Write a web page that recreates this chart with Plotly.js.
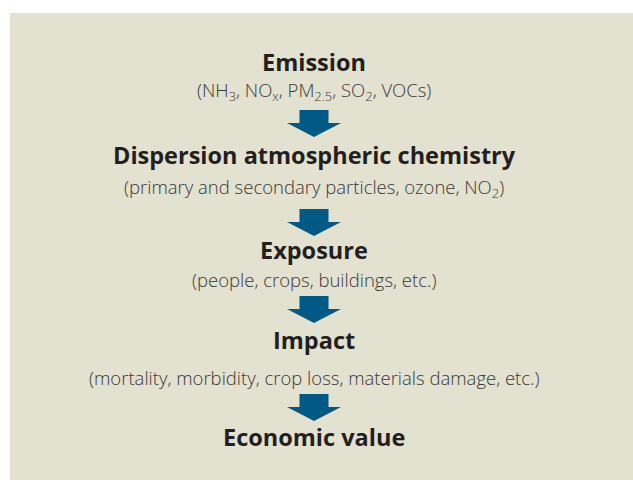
<!DOCTYPE html>
<html><head><meta charset="utf-8">
<script src="https://cdn.plot.ly/plotly-3.0.1.min.js"></script>
<style>html,body{margin:0;padding:0;background:#fff}</style>
</head><body><div id="chart" style="width:633px;height:480px"></div>
<script>
// ---- content ----
const stepTitles = ["Emission", "Dispersion atmospheric chemistry", "Exposure", "Impact", "Economic value"];
const stepDetails = [
  "(NH<sub>3</sub>, NO<sub>x</sub>, PM<sub>2.5</sub>, SO<sub>2</sub>, VOCs)",
  "(primary and secondary particles, ozone, NO<sub>2</sub>)",
  "(people, crops, buildings, etc.)",
  "(mortality, morbidity, crop loss, materials damage, etc.)",
  ""
];

// ---- layout geometry (pixel-like data units) ----
const geo = {
  cx: 314,
  titleY: [62, 155, 250, 340, 437],
  detailY: [91, 188, 279, 377],
  arrowTop: [110, 209, 296, 394],
  shaftHalf: 14.5, headHalf: 27, shaftH: 13, headH: 14
};

const traces = [];
for (let i = 0; i < stepTitles.length - 1; i++) {
  const t = geo.arrowTop[i], c = geo.cx;
  traces.push({
    type: "scatter", mode: "lines", fill: "toself", fillcolor: "#005a85",
    line: {width: 0, color: "#005a85"}, hoverinfo: "skip", showlegend: false,
    x: [c - geo.shaftHalf, c + geo.shaftHalf, c + geo.shaftHalf, c + geo.headHalf, c, c - geo.headHalf, c - geo.shaftHalf, c - geo.shaftHalf],
    y: [t, t, t + geo.shaftH, t + geo.shaftH, t + geo.shaftH + geo.headH, t + geo.shaftH, t + geo.shaftH, t]
  });
}

const annotations = [];
stepTitles.forEach((s, i) => {
  annotations.push({x: geo.cx, y: geo.titleY[i], xref: "x", yref: "y", text: s, showarrow: false,
    xanchor: "center", yanchor: "middle",
    font: {family: "Open Sans, sans-serif", size: 23.5, weight: 700, color: "#231f20"}});
  if (stepDetails[i]) {
    annotations.push({x: geo.cx, y: geo.detailY[i], xref: "x", yref: "y", text: stepDetails[i], showarrow: false,
      xanchor: "center", yanchor: "middle",
      font: {family: "Open Sans, sans-serif", size: 18.5, weight: 300, color: "#3a3838"}});
  }
});

const layout = {
  width: 633, height: 480,
  margin: {l: 0, r: 0, t: 0, b: 0},
  paper_bgcolor: "#ffffff", plot_bgcolor: "#ffffff",
  xaxis: {range: [0, 633], visible: false, fixedrange: true},
  yaxis: {range: [480, 0], visible: false, fixedrange: true},
  shapes: [{type: "rect", xref: "x", yref: "y", x0: 10, x1: 633, y0: 13, y1: 480,
    fillcolor: "#e3e1d0", line: {width: 0}, layer: "below"}],
  annotations: annotations,
  showlegend: false
};

Plotly.newPlot("chart", traces, layout, {staticPlot: true, displayModeBar: false});
</script>
</body></html>
